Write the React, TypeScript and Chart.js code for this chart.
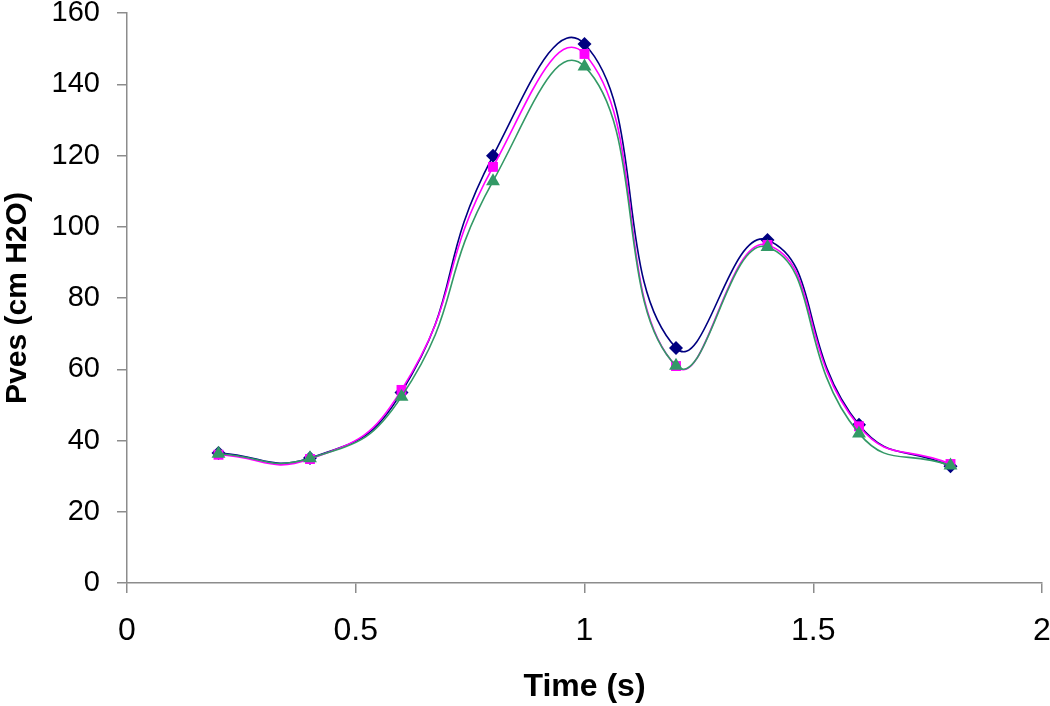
import React, { useEffect, useRef } from "react";
import { Chart, registerables } from "chart.js";

Chart.register(...registerables);

const times = [0.2, 0.4, 0.6, 0.8, 1.0, 1.2, 1.4, 1.6, 1.8];
const seriesBlue = [36.5, 35.1, 53.5, 119.9, 151.3, 66.0, 96.3, 44.4, 32.8];
const seriesMagenta = [36.0, 34.8, 54.2, 116.8, 148.5, 60.9, 94.9, 44.0, 33.4];
const seriesGreen = [36.3, 35.0, 52.3, 112.8, 145.0, 61.0, 94.3, 42.0, 33.0];
const yTicks = [0, 20, 40, 60, 80, 100, 120, 140, 160];
const xTicks = [0, 0.5, 1, 1.5, 2];

const toPoints = (vals: number[]) => times.map((t, i) => ({ x: t, y: vals[i] }));

export default function App() {
  const ref = useRef<HTMLCanvasElement | null>(null);
  useEffect(() => {
    if (!ref.current) return;
    const font = "'Liberation Sans', Arial, sans-serif";
    const chart = new Chart(ref.current, {
      type: "line",
      data: {
        datasets: [
          {
            label: "A",
            data: toPoints(seriesBlue),
            borderColor: "#000080",
            backgroundColor: "#000080",
            borderWidth: 1.6,
            pointStyle: "rectRot",
            pointRadius: 7,
            pointBorderWidth: 0,
            tension: 0.5,
            order: 3,
          },
          {
            label: "B",
            data: toPoints(seriesMagenta),
            borderColor: "#FF00FF",
            backgroundColor: "#FF00FF",
            borderWidth: 1.6,
            pointStyle: "rect",
            pointRadius: 7,
            pointBorderWidth: 0,
            tension: 0.5,
            order: 2,
          },
          {
            label: "C",
            data: toPoints(seriesGreen),
            borderColor: "#339966",
            backgroundColor: "#339966",
            borderWidth: 1.6,
            pointStyle: "triangle",
            pointRadius: 8,
            pointBorderWidth: 0,
            tension: 0.5,
            order: 1,
          },
        ],
      },
      options: {
        animation: false,
        responsive: false,
        maintainAspectRatio: false,
        layout: { padding: { top: 13, right: 7, left: 0, bottom: 0 } },
        plugins: { legend: { display: false }, tooltip: { enabled: false } },
        scales: {
          x: {
            type: "linear",
            min: 0,
            max: 2,
            afterBuildTicks: (s: any) => {
              s.ticks = xTicks.map((v) => ({ value: v }));
            },
            afterFit: (s: any) => {
              s.height = 706 - 583;
              s.paddingLeft = 0;
              s.paddingRight = 0;
            },
            grid: {
              display: true,
              drawOnChartArea: false,
              drawTicks: true,
              tickLength: 10,
              color: "#8c8c8c",
              lineWidth: 1.5,
            },
            border: { display: true, color: "#8c8c8c", width: 1.5 },
            ticks: {
              color: "#000",
              font: { family: font, size: 32 },
              padding: 19,
              maxRotation: 0,
              callback: (v: any) => String(v),
            },
            title: {
              display: true,
              text: "Time (s)",
              color: "#000",
              font: { family: font, size: 32, weight: "bold" },
              padding: { top: 0, bottom: 0 },
            },
          },
          y: {
            type: "linear",
            min: 0,
            max: 160,
            afterBuildTicks: (s: any) => {
              s.ticks = yTicks.map((v) => ({ value: v }));
            },
            afterFit: (s: any) => {
              s.width = 127;
              s.paddingTop = 0;
              s.paddingBottom = 0;
            },
            grid: {
              display: true,
              drawOnChartArea: false,
              drawTicks: true,
              tickLength: 10,
              color: "#8c8c8c",
              lineWidth: 1.5,
            },
            border: { display: true, color: "#8c8c8c", width: 1.5 },
            ticks: {
              color: "#000",
              font: { family: font, size: 29 },
              padding: 17,
              callback: (v: any) => String(v),
            },
            title: {
              display: true,
              text: "Pves (cm H2O)",
              color: "#000",
              font: { family: font, size: 30, weight: "bold" },
              padding: { top: 0, bottom: 0 },
            },
          },
        },
      },
    });
    return () => chart.destroy();
  }, []);
  return (
    <div style={{ position: "fixed", left: 0, top: 0, width: 1050, height: 706, background: "#fff" }}>
      <canvas ref={ref} width={1050} height={706} style={{ width: 1050, height: 706 }} />
    </div>
  );
}
